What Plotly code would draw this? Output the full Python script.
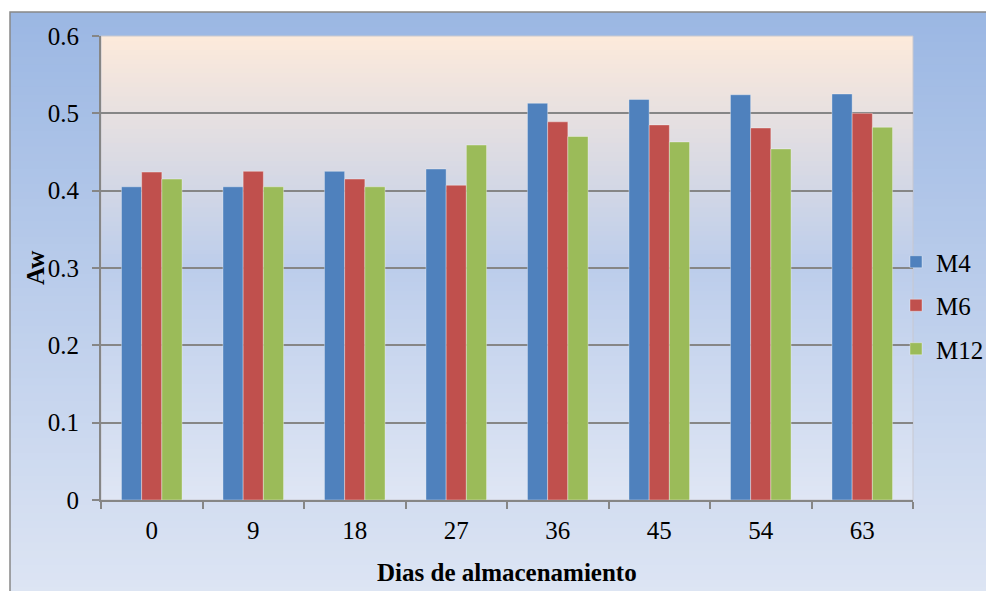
import plotly.graph_objects as go

categories = ["0", "9", "18", "27", "36", "45", "54", "63"]
m4 = [0.405, 0.405, 0.425, 0.428, 0.513, 0.518, 0.524, 0.525]
m6 = [0.424, 0.425, 0.415, 0.407, 0.489, 0.485, 0.481, 0.500]
m12 = [0.415, 0.405, 0.405, 0.459, 0.470, 0.463, 0.454, 0.482]
series = [("M4", m4, "#4F81BD"), ("M6", m6, "#C0504D"), ("M12", m12, "#9BBB59")]

OFF = 8  # page body margin offset
W, H = 994 - OFF, 591 - OFF
L, R, T, B = 101 - OFF, 913 - OFF, 36 - OFF, 500 - OFF
pw, ph = R - L, B - T

def px2x(p):
    return (p - OFF - L) / pw

def px2y(p):
    return (B - (p - OFF)) / ph

def lerp(c1, c2, t):
    return tuple(round(a + (b - a) * t) for a, b in zip(c1, c2))

def hx(s):
    s = s.lstrip("#")
    return tuple(int(s[i:i + 2], 16) for i in (0, 2, 4))

def grad(stops, t):
    for i in range(len(stops) - 1):
        t0, c0 = stops[i]
        t1, c1 = stops[i + 1]
        if t0 <= t <= t1:
            return lerp(hx(c0), hx(c1), (t - t0) / (t1 - t0))
    return hx(stops[-1][1])

shapes = []
# outer chart background gradient (reference pixel coords)
outer_stops = [(0, "#9BB7E3"), (1, "#DFE6F4")]
x0o, x1o, y0o, y1o = 10, 1010, 12, 610
n = 80
for i in range(n):
    ya = y0o + (y1o - y0o) * i / n
    yb = y0o + (y1o - y0o) * (i + 1) / n + 1
    c = grad(outer_stops, (i + 0.5) / n)
    shapes.append(dict(type="rect", xref="paper", yref="paper", layer="below",
                       x0=px2x(x0o), x1=px2x(x1o), y0=px2y(ya), y1=px2y(yb),
                       fillcolor="rgb(%d,%d,%d)" % c, line=dict(width=0)))
shapes.append(dict(type="rect", xref="paper", yref="paper", layer="below",
                   x0=px2x(x0o), x1=px2x(x1o), y0=px2y(y0o), y1=px2y(y1o),
                   fillcolor="rgba(0,0,0,0)", line=dict(width=1.5, color="#888888")))
# plot area gradient
plot_stops = [(0, "#FDEADB"), (0.5, "#BCCDEB"), (1, "#DFE6F4")]
n2 = 100
for i in range(n2):
    t0 = i / n2
    t1 = min(1.0, (i + 1) / n2 + 0.003)
    c = grad(plot_stops, (i + 0.5) / n2)
    shapes.append(dict(type="rect", xref="paper", yref="paper", layer="below",
                       x0=0, x1=1, y0=1 - t1, y1=1 - t0,
                       fillcolor="rgb(%d,%d,%d)" % c, line=dict(width=0)))
shapes.append(dict(type="rect", xref="paper", yref="paper", layer="below",
                   x0=0, x1=1, y0=0, y1=1,
                   fillcolor="rgba(0,0,0,0)", line=dict(width=1, color="#C8C8D0")))

fig = go.Figure()
for name, vals, col in series:
    fig.add_trace(go.Bar(
        x=categories, y=vals, name=name, legendgroup=name,
        marker=dict(color=col, line=dict(color="rgba(255,255,255,0.35)", width=1)),
    ))

font = "Liberation Serif, Times New Roman, serif"
FS = 25
fig.update_layout(
    width=W, height=H,
    margin=dict(l=L, r=W - R, t=T, b=H - B, pad=0, autoexpand=False),
    paper_bgcolor="white",
    plot_bgcolor="rgba(0,0,0,0)",
    barmode="group", bargap=0.403, bargroupgap=0,
    font=dict(family=font, size=FS, color="black"),
    shapes=shapes,
    showlegend=True,
    legend=dict(x=px2x(896), xanchor="left", y=px2y(239), yanchor="top",
                bgcolor="rgba(0,0,0,0)", traceorder="grouped", tracegroupgap=8,
                font=dict(family=font, size=FS, color="black")),
    xaxis=dict(
        type="category", showgrid=False, showline=True, linecolor="#868686", linewidth=2,
        ticks="outside", tickson="boundaries", ticklen=7, tickcolor="#868686", tickwidth=2,
        tickfont=dict(family=font, size=FS), range=[-0.5, 7.5], ticklabelstandoff=7,
    ),
    yaxis=dict(
        range=[0, 0.6], dtick=0.1, tickformat="~g", showgrid=True, gridcolor="#868686", gridwidth=2,
        showline=True, linecolor="#868686", linewidth=2, zeroline=False,
        ticks="outside", ticklen=7, tickcolor="#868686", tickwidth=2,
        tickfont=dict(family=font, size=FS), ticklabelstandoff=8,
    ),
    annotations=[
        dict(text="<b>Dias de almacenamiento</b>", xref="paper", yref="paper",
             x=px2x(507), y=px2y(572), xanchor="center", yanchor="middle",
             showarrow=False, font=dict(family=font, size=FS)),
        dict(text="<b>Aw</b>", xref="paper", yref="paper", textangle=-90,
             x=px2x(35), y=px2y(268), xanchor="center", yanchor="middle",
             showarrow=False, font=dict(family=font, size=FS)),
    ],
)
fig.write_html("out.html")
